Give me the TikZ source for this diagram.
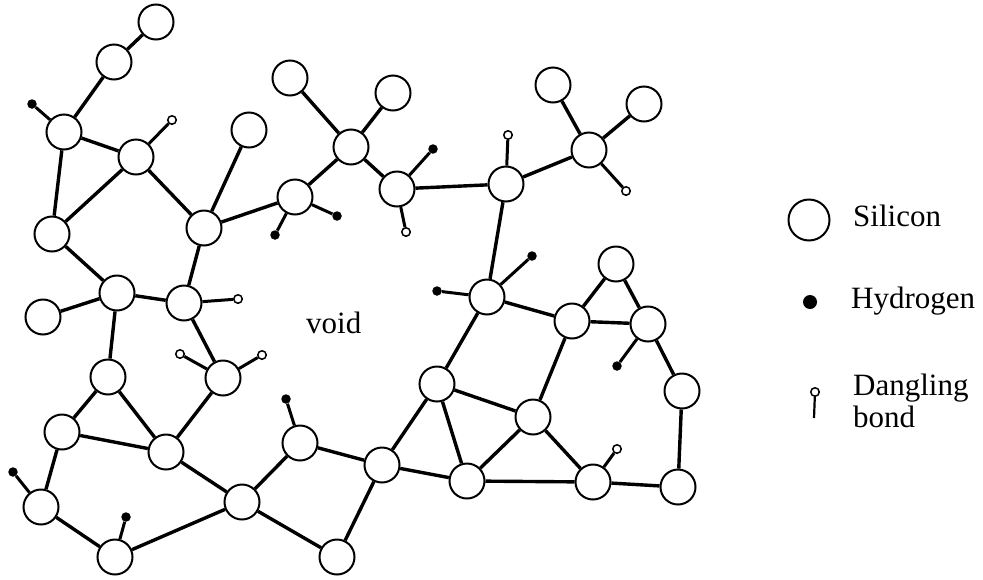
\documentclass[tikz,border=0pt]{standalone}
\usepackage{fontspec}
\setmainfont{Liberation Serif}
\begin{document}
\begin{tikzpicture}[x=1pt,y=-1pt,
  si/.style={circle,draw,line width=2pt,minimum size=35pt,inner sep=0pt},
  hyd/.style={circle,fill,minimum size=9.5pt,inner sep=0pt},
  dng/.style={circle,draw,line width=1.5pt,minimum size=8.5pt,inner sep=0pt},
  bond/.style={line width=3.4pt},
  stick/.style={line width=3pt},
  lbl/.style={font=\fontsize{31}{33}\selectfont,inner sep=0pt,anchor=base west}]
\useasboundingbox (0,0) rectangle (983,579);

% silicon atoms
\foreach \n/\x/\y in {
  s1/156/22, s2/114/62, s3/64/132, s4/136/157, s5/249/130, s6/290/78,
  s7/351/147, s8/295/197, s9/52/234, s10/204/228, s11/117/293, s12/184/303,
  s13/393/93, s14/397/189, s15/506/184, s16/553/85, s17/644/104, s18/589/150,
  s19/616/264, s20/487/297, s21/43/317, s22/108/377, s23/223/378, s24/62/432,
  s25/166/452, s26/41/507, s27/115/557, s28/242/502, s29/300/443, s30/337/557,
  s32/572/321, s33/648/324, s34/682/391, s35/437/384, s36/533/417, s37/382/465,
  s38/467/481, s39/593/482, s40/678/487}
  \node[si] (\n) at (\x,\y) {};

% hydrogen atoms
\foreach \n/\x/\y in {
  h3/32/104, h8a/275/235, h8b/337/216, h14/433/149, h20a/437/291,
  h20b/532/256, h33/617/366, h29/286/399, h26/13/472, h27/126/517}
  \node[hyd] (\n) at (\x,\y) {};

% dangling bond ends
\foreach \n/\x/\y in {
  d4/172/120, d12/238/299, d14/406/232, d15/508/135, d18/626/191,
  d23a/180/354, d23b/262/355, d39/617/449}
  \node[dng] (\n) at (\x,\y) {};

% Si--Si bonds
\foreach \a/\b in {
  s1/s2, s2/s3, s3/s4, s3/s9, s4/s9, s4/s10, s10/s5, s10/s8, s10/s12,
  s8/s7, s7/s6, s7/s13, s7/s14, s14/s15, s15/s18, s18/s16, s18/s17,
  s15/s20, s20/s32, s20/s35, s32/s19, s19/s33, s32/s33, s33/s34, s34/s40,
  s32/s36, s35/s36, s35/s37, s35/s38, s36/s38, s36/s39, s38/s39, s39/s40,
  s37/s38, s37/s30, s37/s29, s28/s29, s28/s30, s28/s25, s28/s27, s25/s23,
  s25/s22, s25/s24, s22/s24, s22/s11, s24/s26, s26/s27, s11/s21, s11/s12,
  s11/s9, s12/s23}
  \draw[bond] (\a) -- (\b);

% Si--H bonds
\foreach \a/\b in {
  s3/h3, s8/h8a, s8/h8b, s14/h14, s20/h20a, s20/h20b, s33/h33,
  s29/h29, s26/h26, s27/h27}
  \draw[stick] (\a) -- (\b);

% dangling bonds
\foreach \a/\b in {
  s4/d4, s12/d12, s14/d14, s15/d15, s18/d18, s23/d23a, s23/d23b, s39/d39}
  \draw[stick] (\a) -- (\b);

\node[lbl] (void) at (306,333) {void};

% legend
\node[si,minimum size=41pt] (lsi) at (809,220) {};
\node[lbl] (tsi) at (853,226) {Silicon};
\node[hyd,minimum size=14pt] (lh) at (810,302) {};
\node[lbl] (th) at (851,308) {Hydrogen};
\node[dng] (ldc) at (815,392) {};
\coordinate (ldend) at (814,418);
\draw[line width=2.2pt] (ldc) -- (ldend);
\node[lbl] (td1) at (853,395) {Dangling};
\node[lbl] (td2) at (853,427) {bond};
\end{tikzpicture}
\end{document}
